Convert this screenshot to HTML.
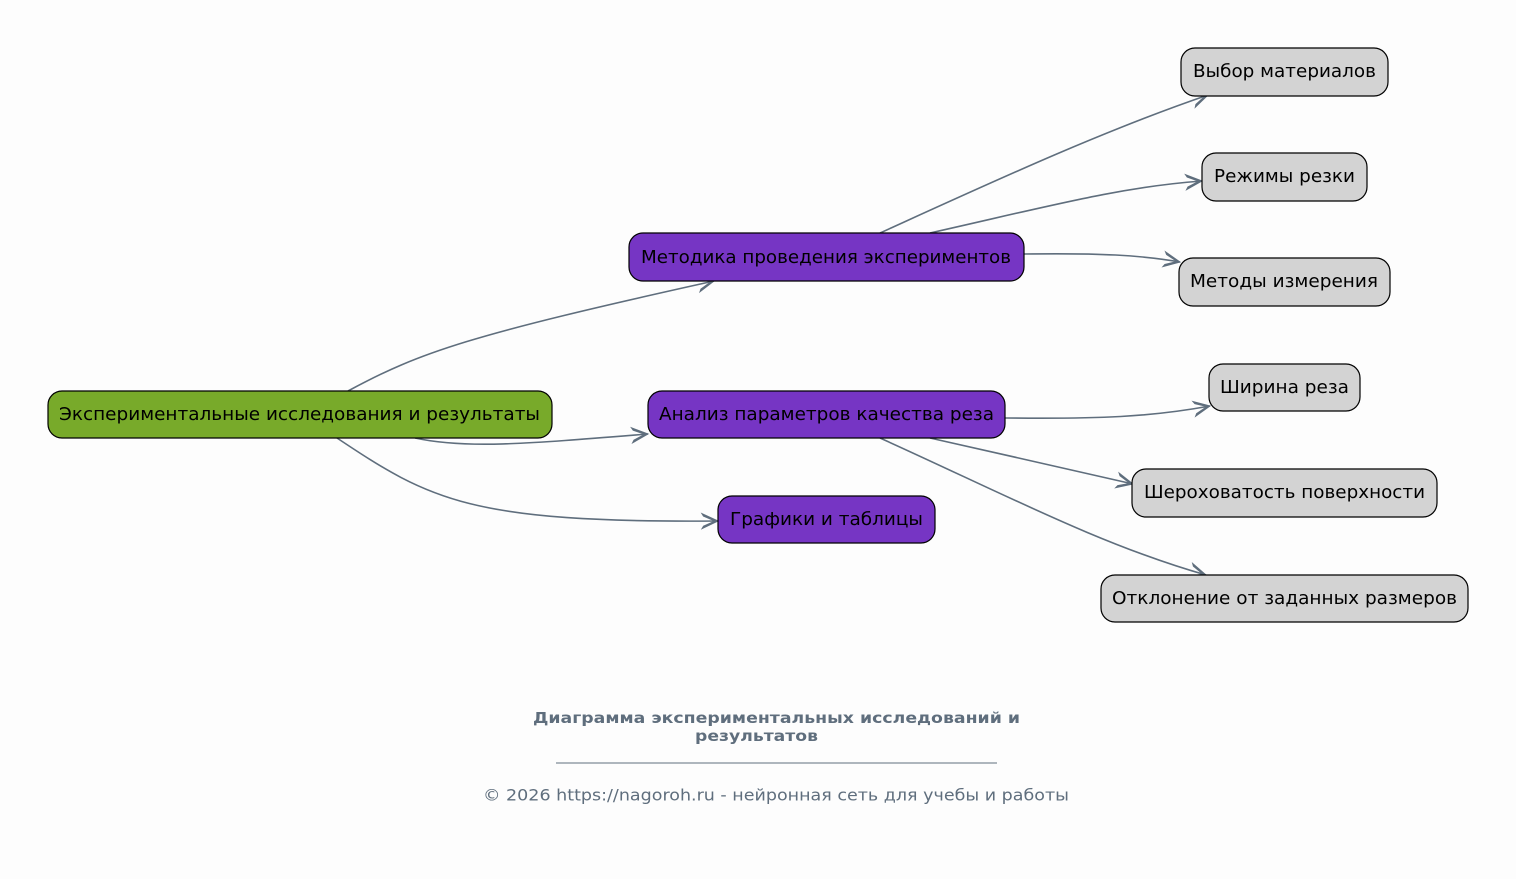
<!DOCTYPE html>
<html><head><meta charset="utf-8"><style>
html,body{margin:0;padding:0;background:#fdfdfd;}
svg{display:block;}
text{font-family:"DejaVu Sans","Liberation Sans",sans-serif;}
</style></head><body>
<svg width="1516" height="879" viewBox="0 0 1516 879" xmlns="http://www.w3.org/2000/svg">
<defs>
<marker id="ah" markerUnits="userSpaceOnUse" markerWidth="30" markerHeight="30" viewBox="-20 -15 30 30" refX="0" refY="0" orient="auto">
<path d="M0,0 L-16,-7.5 L-14.5,-5 L-3,0 L-14.5,5 L-16,7.5 Z" fill="#5f6e7d" stroke="#5f6e7d" stroke-width="1" stroke-linejoin="miter"/>
</marker>
</defs>
<rect width="1516" height="879" fill="#fdfdfd"/>
<g fill="none" stroke="#5f6e7d" stroke-width="1.6" marker-end="url(#ah)">
<path d="M348,391 C420,352 470,335 714,281"/>
<path d="M415,438 C465,449 525,444 648,434"/>
<path d="M337,438 C430,500 470,523 718,521"/>
<path d="M880,233 C990,183 1100,132 1208,95"/>
<path d="M930,233 C1050,206 1120,187 1202,181"/>
<path d="M1024,254 C1100,253 1140,255 1180,262"/>
<path d="M1005,418 C1100,419 1150,417 1210,406"/>
<path d="M930,438 C1000,454 1060,467 1133,484"/>
<path d="M880,438 C1000,492 1100,545 1206,575"/>
</g>
<g stroke="#000" stroke-width="1.2">
<rect x="48" y="391" width="504" height="47" rx="14" fill="#78aa2a"/>
<rect x="629" y="233" width="395" height="48" rx="14" fill="#7635c4"/>
<rect x="648" y="391" width="357" height="47" rx="14" fill="#7635c4"/>
<rect x="718" y="496" width="217" height="47" rx="14" fill="#7635c4"/>
<rect x="1181" y="48" width="207" height="48" rx="14" fill="#d3d3d3"/>
<rect x="1202" y="153" width="165" height="48" rx="14" fill="#d3d3d3"/>
<rect x="1179" y="258" width="211" height="48" rx="14" fill="#d3d3d3"/>
<rect x="1209" y="364" width="151" height="47" rx="14" fill="#d3d3d3"/>
<rect x="1132" y="469" width="305" height="48" rx="14" fill="#d3d3d3"/>
<rect x="1101" y="575" width="367" height="47" rx="14" fill="#d3d3d3"/>
</g>
<g font-size="18" fill="#000" dominant-baseline="central">
<text x="59" y="414.5" textLength="481" lengthAdjust="spacingAndGlyphs">Экспериментальные исследования и результаты</text>
<text x="641" y="257.5" textLength="370" lengthAdjust="spacingAndGlyphs">Методика проведения экспериментов</text>
<text x="659" y="414.5" textLength="335" lengthAdjust="spacingAndGlyphs">Анализ параметров качества реза</text>
<text x="730" y="519.5" textLength="193" lengthAdjust="spacingAndGlyphs">Графики и таблицы</text>
<text x="1193" y="71.5" textLength="183" lengthAdjust="spacingAndGlyphs">Выбор материалов</text>
<text x="1214" y="176.5" textLength="141" lengthAdjust="spacingAndGlyphs">Режимы резки</text>
<text x="1190" y="281.5" textLength="188" lengthAdjust="spacingAndGlyphs">Методы измерения</text>
<text x="1220" y="387.5" textLength="129" lengthAdjust="spacingAndGlyphs">Ширина реза</text>
<text x="1144" y="492.5" textLength="281" lengthAdjust="spacingAndGlyphs">Шероховатость поверхности</text>
<text x="1112" y="598.5" textLength="345" lengthAdjust="spacingAndGlyphs">Отклонение от заданных размеров</text>
</g>
<g fill="#5f6e7d" dominant-baseline="central">
<text x="533" y="718" font-size="15.5" font-weight="bold" textLength="487" lengthAdjust="spacingAndGlyphs">Диаграмма экспериментальных исследований и</text>
<text x="695" y="736" font-size="15.5" font-weight="bold" textLength="123" lengthAdjust="spacingAndGlyphs">результатов</text>
<text x="483" y="795" font-size="16" textLength="586" lengthAdjust="spacingAndGlyphs">© 2026 https://nagoroh.ru - нейронная сеть для учебы и работы</text>
</g>
<line x1="556" y1="763" x2="997" y2="763" stroke="#5f6e7d" stroke-width="1"/>
</svg>
</body></html>
